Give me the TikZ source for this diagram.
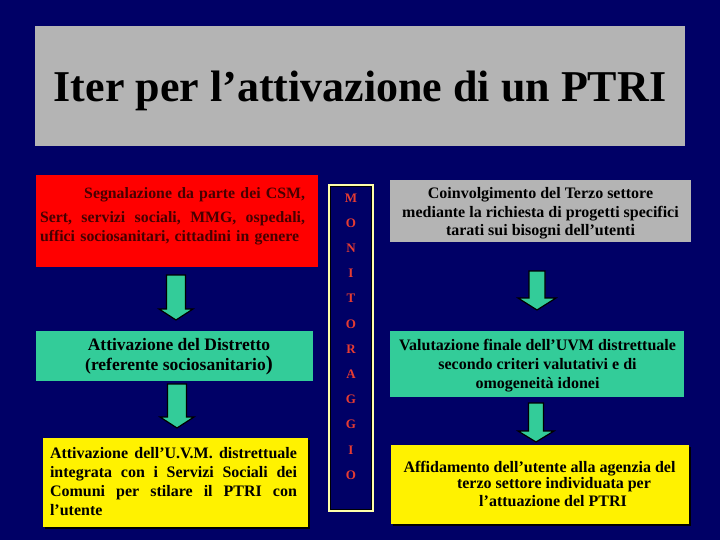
\documentclass[tikz,border=0pt]{standalone}
\usepackage{fontspec}
\setmainfont{Liberation Serif}
\definecolor{navy}{RGB}{0,0,102}
\definecolor{slgray}{RGB}{180,180,180}
\definecolor{sgreen}{RGB}{51,204,153}
\definecolor{cream}{RGB}{255,255,170}
\definecolor{mred}{RGB}{230,60,50}
\definecolor{dred}{RGB}{70,0,0}
\newcommand\fs[2]{\fontsize{#1}{#2}\selectfont}
\newcommand\jline[2]{\leavevmode\hbox to #1{#2}}
\newcommand\blockarrow[5]{% name, shaft half, head half, head start, length
  \draw[blockarr] (#1) ++(-#2,0) -- ++({2*#2},0) -- ++(0,#4) -- ++({#3-#2},0)
    -- ++(-#3,{#5-#4}) -- ++(-#3,{#4-#5}) -- ++({#3-#2},0) -- cycle;}
\begin{document}
\begin{tikzpicture}[x=1pt,y=-1pt,
  box/.style={rectangle,inner sep=0pt,outer sep=0pt},
  txt/.style={inner sep=0pt,font=\bfseries},
  blockarr/.style={fill=sgreen,draw=black,line width=1.2pt,line join=miter}]
\fill[navy] (0,0) rectangle (720,540);
\useasboundingbox (0,0) rectangle (720,540);
% title
\node[box,fill=slgray,minimum width=650pt,minimum height=120pt] (title) at (360,86) {};
\node[txt,anchor=base,font=\bfseries\fs{44}{48}] (titletxt) at (360,102) {Iter per l’attivazione di un PTRI};
% left column
\node[box,fill=red,draw=navy,line width=0.8pt,minimum width=283pt,minimum height=93pt] (red) at (176.5,220.5) {};
\node[txt,text=dred,font=\bfseries\fs{15.8}{18.5},text width=265pt,align=left] (redtxt) at (172.5,216.5)
  {\null\hfill Segnalazione da parte dei CSM,\\[5.5pt]
   \jline{265pt}{Sert,\hfill servizi\hfill sociali,\hfill MMG,\hfill ospedali,}\\
   uffici sociosanitari, cittadini in genere};
\node[box,fill=sgreen,minimum width=277pt,minimum height=50pt] (greenL) at (174.5,356) {};
\node[txt,align=center,font=\bfseries\fs{17.5}{20}] (greenLtxt) at (179,356.5)
  {Attivazione del Distretto\\(referente sociosanitario{\fs{21}{20})}};
\fill[black] (45,440) rectangle (310,529);
\node[box,fill=yellow,minimum width=265pt,minimum height=89pt] (yellowL) at (175.5,482.5) {};
\node[txt,text width=247pt,align=left,font=\bfseries\fs{16}{19}] (yellowLtxt) at (173.5,482)
  {\jline{247pt}{Attivazione\hfill dell’U.V.M.\hfill distrettuale}\\
   \jline{247pt}{integrata\hfill con\hfill i\hfill Servizi\hfill Sociali\hfill dei}\\
   \jline{247pt}{Comuni\hfill per\hfill stilare\hfill il\hfill PTRI\hfill con}\\
   l’utente};
% monitoraggio
\node[box,fill=navy,draw=cream,line width=2.2pt,minimum width=44pt,minimum height=326pt] (mon) at (351,348) {};
\draw[black,line width=0.8pt] (330.6,186.6) rectangle (371.4,509.4);
\node[txt,text=mred,align=center,font=\bfseries\fs{13}{25.2}] (montxt) at (351,336.5)
  {M\\O\\N\\I\\T\\O\\R\\A\\G\\G\\I\\O};
% right column
\node[box,fill=slgray,minimum width=301pt,minimum height=62pt] (grayR) at (540.5,211) {};
\node[txt,align=center,font=\bfseries\fs{16}{18.5}] (grayRtxt) at (540.5,213.5)
  {Coinvolgimento del Terzo settore\\mediante la richiesta di progetti specifici\\tarati sui bisogni dell’utenti};
\node[box,fill=sgreen,minimum width=294pt,minimum height=66pt] (greenR) at (537,364) {};
\node[txt,align=center,font=\bfseries\fs{16}{19}] (greenRtxt) at (537.5,366)
  {Valutazione finale dell’UVM distrettuale\\secondo criteri valutativi e di\\omogeneità idonei};
\fill[black] (393,447) rectangle (691,526);
\node[box,fill=yellow,minimum width=298pt,minimum height=79pt] (yellowR) at (540,484.5) {};
\node[txt,font=\bfseries\fs{16}{18}] (yR1) at (539.5,469) {Affidamento dell’utente alla agenzia del};
\node[txt,font=\bfseries\fs{16}{18}] (yR2) at (554,485) {terzo settore individuata per};
\node[txt,font=\bfseries\fs{16}{18}] (yR3) at (553,501) {l’attuazione del PTRI};
% arrows
\coordinate (a1) at (176,275);
\coordinate (a2) at (177,384);
\coordinate (a3) at (537,271);
\coordinate (a4) at (536,403);
\blockarrow{a1}{9.5}{17}{34}{45}
\blockarrow{a2}{9.5}{17}{33}{44}
\blockarrow{a3}{8}{19}{27}{39}
\blockarrow{a4}{7.5}{18}{28}{39}
\end{tikzpicture}
\end{document}
